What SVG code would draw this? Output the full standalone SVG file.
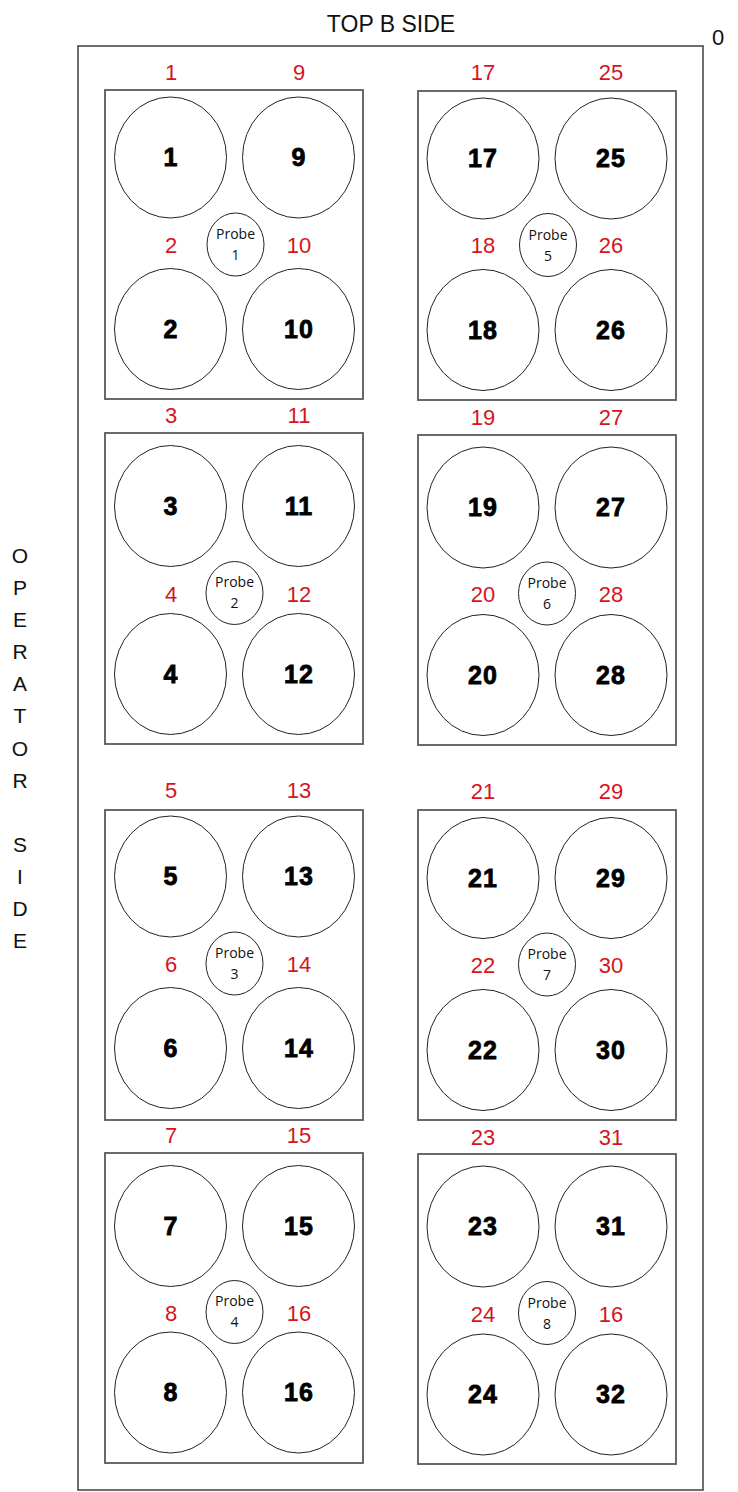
<svg xmlns="http://www.w3.org/2000/svg" width="738" height="1492" viewBox="0 0 738 1492">
<style>
.frame{fill:none;stroke:#4a4a4a;stroke-width:1.6}
.box{fill:#fff;stroke:#5a5a5a;stroke-width:1.8}
.well{fill:#fff;stroke:#222;stroke-width:1}
.probe{fill:#fff;stroke:#222;stroke-width:1}
.num{font-family:"Liberation Sans",Arial,sans-serif;font-size:25px;font-weight:bold;fill:#000;stroke:#000;stroke-width:0.8;text-anchor:middle;letter-spacing:1px}
.red{font-family:"Liberation Sans",Arial,sans-serif;font-size:22px;fill:#d7141e;text-anchor:middle}
.pt{font-family:"Open Sans","Liberation Sans",sans-serif;font-size:14px;fill:#111;text-anchor:middle}
.side{font-family:"Liberation Sans",Arial,sans-serif;font-size:21px;fill:#111;text-anchor:middle}
.title{font-family:"Liberation Sans",Arial,sans-serif;font-size:23px;fill:#111;text-anchor:middle}
</style>
<rect x="0" y="0" width="738" height="1492" fill="#fff"/>
<g id="frame">
<rect class="frame" x="78" y="46" width="625" height="1444"/>
<text class="title" x="391" y="32">TOP B SIDE</text>
<text class="title" x="718" y="45" style="font-size:22px">0</text>
</g>
<g id="operator-side">
<text class="side" x="20" y="563">O</text>
<text class="side" x="20" y="595">P</text>
<text class="side" x="20" y="627">E</text>
<text class="side" x="20" y="659">R</text>
<text class="side" x="20" y="691">A</text>
<text class="side" x="20" y="723">T</text>
<text class="side" x="20" y="756">O</text>
<text class="side" x="20" y="788">R</text>
<text class="side" x="20" y="852">S</text>
<text class="side" x="20" y="884">I</text>
<text class="side" x="20" y="916">D</text>
<text class="side" x="20" y="948">E</text>
</g>
<g id="connectors"></g>

<g id="block-1">
<rect class="box" x="105" y="90" width="258" height="309"/>
<text class="red" x="171" y="80">1</text><text class="red" x="299" y="80">9</text>
<text class="red" x="171" y="253">2</text><text class="red" x="299" y="253">10</text>
<g id="well-1"><ellipse class="well" cx="170.5" cy="157.5" rx="56" ry="60.5"/><text class="num" x="171" y="166">1</text></g>
<g id="well-9"><ellipse class="well" cx="298.5" cy="157.5" rx="56" ry="60.5"/><text class="num" x="299" y="166">9</text></g>
<g id="well-2"><ellipse class="well" cx="170.5" cy="329" rx="56" ry="60.5"/><text class="num" x="171" y="337.5">2</text></g>
<g id="well-10"><ellipse class="well" cx="298.5" cy="329" rx="56" ry="60.5"/><text class="num" x="299" y="337.5">10</text></g>
<g id="probe-1"><ellipse class="probe" cx="235.5" cy="244.5" rx="28.5" ry="31.5"/><text class="pt" x="235.5" y="239">Probe</text><text class="pt" x="235.5" y="260">1</text></g>
</g>

<g id="block-2">
<rect class="box" x="105" y="433" width="258" height="311"/>
<text class="red" x="171" y="423">3</text><text class="red" x="299" y="423">11</text>
<text class="red" x="171" y="602">4</text><text class="red" x="299" y="602">12</text>
<g id="well-3"><ellipse class="well" cx="170.5" cy="506" rx="56" ry="60.5"/><text class="num" x="171" y="514.5">3</text></g>
<g id="well-11"><ellipse class="well" cx="298.5" cy="506" rx="56" ry="60.5"/><text class="num" x="299" y="514.5">11</text></g>
<g id="well-4"><ellipse class="well" cx="170.5" cy="674" rx="56" ry="60.5"/><text class="num" x="171" y="682.5">4</text></g>
<g id="well-12"><ellipse class="well" cx="298.5" cy="674" rx="56" ry="60.5"/><text class="num" x="299" y="682.5">12</text></g>
<g id="probe-2"><ellipse class="probe" cx="234.5" cy="593" rx="28.5" ry="31.5"/><text class="pt" x="234.5" y="587">Probe</text><text class="pt" x="234.5" y="608">2</text></g>
</g>

<g id="block-3">
<rect class="box" x="105" y="810" width="258" height="310"/>
<text class="red" x="171" y="798">5</text><text class="red" x="299" y="798">13</text>
<text class="red" x="171" y="972">6</text><text class="red" x="299" y="972">14</text>
<g id="well-5"><ellipse class="well" cx="170.5" cy="876.5" rx="56" ry="60.5"/><text class="num" x="171" y="885">5</text></g>
<g id="well-13"><ellipse class="well" cx="298.5" cy="876.5" rx="56" ry="60.5"/><text class="num" x="299" y="885">13</text></g>
<g id="well-6"><ellipse class="well" cx="170.5" cy="1048" rx="56" ry="60.5"/><text class="num" x="171" y="1056.5">6</text></g>
<g id="well-14"><ellipse class="well" cx="298.5" cy="1048" rx="56" ry="60.5"/><text class="num" x="299" y="1056.5">14</text></g>
<g id="probe-3"><ellipse class="probe" cx="234.5" cy="963.5" rx="28.5" ry="31.5"/><text class="pt" x="234.5" y="957.5">Probe</text><text class="pt" x="234.5" y="978.5">3</text></g>
</g>

<g id="block-4">
<rect class="box" x="105" y="1153" width="258" height="310"/>
<text class="red" x="171" y="1143">7</text><text class="red" x="299" y="1143">15</text>
<text class="red" x="171" y="1321">8</text><text class="red" x="299" y="1321">16</text>
<g id="well-7"><ellipse class="well" cx="170.5" cy="1226" rx="56" ry="60.5"/><text class="num" x="171" y="1234.5">7</text></g>
<g id="well-15"><ellipse class="well" cx="298.5" cy="1226" rx="56" ry="60.5"/><text class="num" x="299" y="1234.5">15</text></g>
<g id="well-8"><ellipse class="well" cx="170.5" cy="1392.5" rx="56" ry="60.5"/><text class="num" x="171" y="1401">8</text></g>
<g id="well-16"><ellipse class="well" cx="298.5" cy="1392.5" rx="56" ry="60.5"/><text class="num" x="299" y="1401">16</text></g>
<g id="probe-4"><ellipse class="probe" cx="234.5" cy="1312" rx="28.5" ry="31.5"/><text class="pt" x="234.5" y="1306">Probe</text><text class="pt" x="234.5" y="1327">4</text></g>
</g>

<g id="block-5">
<rect class="box" x="418" y="91" width="258" height="309"/>
<text class="red" x="483" y="80">17</text><text class="red" x="611" y="80">25</text>
<text class="red" x="483" y="253">18</text><text class="red" x="611" y="253">26</text>
<g id="well-17"><ellipse class="well" cx="483" cy="158.5" rx="56" ry="60.5"/><text class="num" x="483" y="167">17</text></g>
<g id="well-25"><ellipse class="well" cx="611" cy="158.5" rx="56" ry="60.5"/><text class="num" x="611" y="167">25</text></g>
<g id="well-18"><ellipse class="well" cx="483" cy="330" rx="56" ry="60.5"/><text class="num" x="483" y="338.5">18</text></g>
<g id="well-26"><ellipse class="well" cx="611" cy="330" rx="56" ry="60.5"/><text class="num" x="611" y="338.5">26</text></g>
<g id="probe-5"><ellipse class="probe" cx="548" cy="245" rx="28.5" ry="31.5"/><text class="pt" x="548" y="239.5">Probe</text><text class="pt" x="548" y="260.5">5</text></g>
</g>

<g id="block-6">
<rect class="box" x="418" y="435" width="258" height="310"/>
<text class="red" x="483" y="425">19</text><text class="red" x="611" y="425">27</text>
<text class="red" x="483" y="602">20</text><text class="red" x="611" y="602">28</text>
<g id="well-19"><ellipse class="well" cx="483" cy="507.5" rx="56" ry="60.5"/><text class="num" x="483" y="516">19</text></g>
<g id="well-27"><ellipse class="well" cx="611" cy="507.5" rx="56" ry="60.5"/><text class="num" x="611" y="516">27</text></g>
<g id="well-20"><ellipse class="well" cx="483" cy="675" rx="56" ry="60.5"/><text class="num" x="483" y="683.5">20</text></g>
<g id="well-28"><ellipse class="well" cx="611" cy="675" rx="56" ry="60.5"/><text class="num" x="611" y="683.5">28</text></g>
<g id="probe-6"><ellipse class="probe" cx="547" cy="593.5" rx="28.5" ry="31.5"/><text class="pt" x="547" y="588">Probe</text><text class="pt" x="547" y="609">6</text></g>
</g>

<g id="block-7">
<rect class="box" x="418" y="810" width="258" height="310"/>
<text class="red" x="483" y="799">21</text><text class="red" x="611" y="799">29</text>
<text class="red" x="483" y="973">22</text><text class="red" x="611" y="973">30</text>
<g id="well-21"><ellipse class="well" cx="483" cy="878" rx="56" ry="60.5"/><text class="num" x="483" y="886.5">21</text></g>
<g id="well-29"><ellipse class="well" cx="611" cy="878" rx="56" ry="60.5"/><text class="num" x="611" y="886.5">29</text></g>
<g id="well-22"><ellipse class="well" cx="483" cy="1050" rx="56" ry="60.5"/><text class="num" x="483" y="1058.5">22</text></g>
<g id="well-30"><ellipse class="well" cx="611" cy="1050" rx="56" ry="60.5"/><text class="num" x="611" y="1058.5">30</text></g>
<g id="probe-7"><ellipse class="probe" cx="547" cy="964.5" rx="28.5" ry="31.5"/><text class="pt" x="547" y="959">Probe</text><text class="pt" x="547" y="980">7</text></g>
</g>

<g id="block-8">
<rect class="box" x="418" y="1154" width="258" height="310"/>
<text class="red" x="483" y="1145">23</text><text class="red" x="611" y="1145">31</text>
<text class="red" x="483" y="1322">24</text><text class="red" x="611" y="1322">16</text>
<g id="well-23"><ellipse class="well" cx="483" cy="1226.5" rx="56" ry="60.5"/><text class="num" x="483" y="1235">23</text></g>
<g id="well-31"><ellipse class="well" cx="611" cy="1226.5" rx="56" ry="60.5"/><text class="num" x="611" y="1235">31</text></g>
<g id="well-24"><ellipse class="well" cx="483" cy="1394.5" rx="56" ry="60.5"/><text class="num" x="483" y="1403">24</text></g>
<g id="well-32"><ellipse class="well" cx="611" cy="1394.5" rx="56" ry="60.5"/><text class="num" x="611" y="1403">32</text></g>
<g id="probe-8"><ellipse class="probe" cx="547" cy="1313" rx="28.5" ry="31.5"/><text class="pt" x="547" y="1307.5">Probe</text><text class="pt" x="547" y="1328.5">8</text></g>
</g>
</svg>
